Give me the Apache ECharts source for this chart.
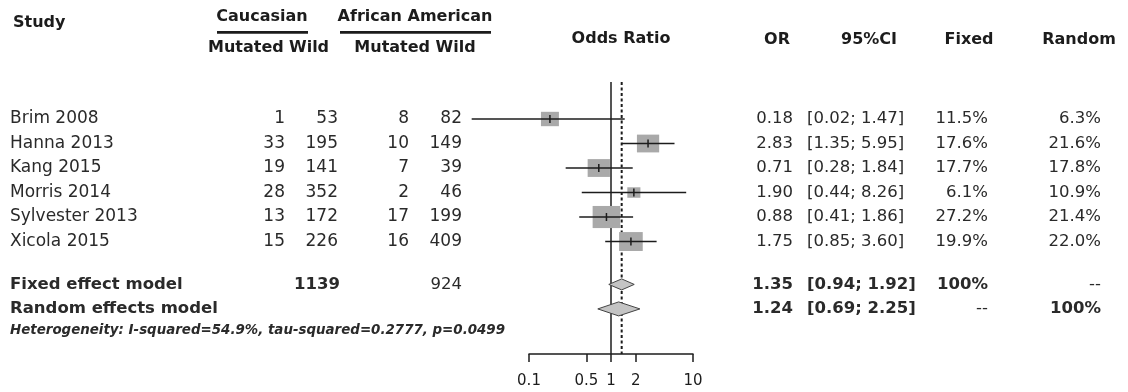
<!DOCTYPE html>
<html>
<head>
<meta charset="utf-8">
<script src="https://cdn.jsdelivr.net/npm/echarts@6/dist/echarts.min.js"></script>
<style>
  html, body { margin: 0; padding: 0; background: #fff; }
  #chart { width: 1128px; height: 392px; }
</style>
</head>
<body>
<div id="chart"></div>
<script>
// study level data
var studies = ['Brim 2008', 'Hanna 2013', 'Kang 2015', 'Morris 2014', 'Sylvester 2013', 'Xicola 2015'];
var cauMutated = [1, 33, 19, 28, 13, 15];
var cauWild = [53, 195, 141, 352, 172, 226];
var afrMutated = [8, 10, 7, 2, 17, 16];
var afrWild = [82, 149, 39, 46, 199, 409];
var oddsRatio = [0.18, 2.83, 0.71, 1.90, 0.88, 1.75];
var ciLower = [0.02, 1.35, 0.28, 0.44, 0.41, 0.85];
var ciUpper = [1.47, 5.95, 1.84, 8.26, 1.86, 3.60];
var weightFixed = [11.5, 17.6, 17.7, 6.1, 27.2, 19.9];
var weightRandom = [6.3, 21.6, 17.8, 10.9, 21.4, 22.0];

// pooled estimates
var modelNames = ['Fixed effect model', 'Random effects model'];
var modelOR = [1.35, 1.24];
var modelLower = [0.94, 0.69];
var modelUpper = [1.92, 2.25];
var modelFixedW = ['100%', '--'];
var modelRandomW = ['--', '100%'];
var totalCau = 1139;
var totalAfr = 924;
var heterogeneity = 'Heterogeneity: I-squared=54.9%, tau-squared=0.2777, p=0.0499';
var axisTicks = [0.1, 0.5, 1, 2, 10];

var FONT = 'DejaVu Sans';
var INK = '#1c1c1c';
var TXT = '#2a2a2a';

var fmt2 = function (v) { return v.toFixed(2); };
var ciText = function (lo, hi) { return '[' + fmt2(lo) + '; ' + fmt2(hi) + ']'; };
var pct = function (v) { return v.toFixed(1) + '%'; };

var studyRows = studies.map(function (s, i) { return i; });
var modelRows = [6.75, 7.75];

// one column of table text, placed on the row axis of the table grid
var textSeries = function (col, align, rows, texts, size, weight, style) {
    return {
        type: 'scatter',
        xAxisIndex: 1,
        yAxisIndex: 1,
        symbolSize: 0,
        silent: true,
        z: 10,
        itemStyle: { opacity: 1 },
        data: rows.map(function (r, i) { return { value: [col, r], name: String(texts[i]) }; }),
        label: {
            show: true,
            position: 'inside',
            align: align,
            verticalAlign: 'middle',
            formatter: '{b}',
            color: TXT,
            opacity: 1,
            fontFamily: FONT,
            fontSize: size,
            fontWeight: weight || 'normal',
            fontStyle: style || 'normal'
        }
    };
};

var headText = function (text, x, y, align, size) {
    return {
        type: 'text',
        x: x,
        y: y,
        style: {
            text: text,
            fill: INK,
            font: 'bold ' + (size || 16) + 'px "' + FONT + '"',
            textAlign: align || 'left',
            textVerticalAlign: 'middle'
        }
    };
};

var chart = echarts.init(document.getElementById('chart'), null, { renderer: 'canvas' });

var series = [];

// null line and fixed effect line
series.push({
    type: 'custom',
    xAxisIndex: 0,
    yAxisIndex: 0,
    silent: true,
    data: [[1, 0], [modelOR[0], 0]],
    renderItem: function (params, api) {
        var x = api.coord([api.value(0), 0])[0];
        var cs = params.coordSys;
        return {
            type: 'line',
            shape: { x1: x, y1: cs.y, x2: x, y2: cs.y + cs.height },
            style: params.dataIndex === 0
                ? { stroke: INK, lineWidth: 1.5 }
                : { stroke: INK, lineWidth: 2, lineDash: [3, 2.5] }
        };
    }
});

// study boxes and whiskers
series.push({
    type: 'custom',
    xAxisIndex: 0,
    yAxisIndex: 0,
    clip: false,
    silent: true,
    data: studies.map(function (s, i) { return [oddsRatio[i], ciLower[i], ciUpper[i], studyRows[i], weightFixed[i]]; }),
    renderItem: function (params, api) {
        var row = api.value(3);
        var p = api.coord([api.value(0), row]);
        var lo = api.coord([api.value(1), row])[0];
        var hi = api.coord([api.value(2), row])[0];
        var w = 5.3 * Math.sqrt(api.value(4));
        var h = w * 0.8;
        return {
            type: 'group',
            children: [
                { type: 'rect', shape: { x: p[0] - w / 2, y: p[1] - h / 2, width: w, height: h }, style: { fill: '#a9a9a9' } },
                { type: 'line', shape: { x1: lo, y1: p[1], x2: hi, y2: p[1] }, style: { stroke: INK, lineWidth: 1.5 } },
                { type: 'line', shape: { x1: p[0], y1: p[1] - 4, x2: p[0], y2: p[1] + 4 }, style: { stroke: INK, lineWidth: 1.5 } }
            ]
        };
    }
});

// pooled diamonds
series.push({
    type: 'custom',
    xAxisIndex: 0,
    yAxisIndex: 0,
    clip: false,
    silent: true,
    data: modelNames.map(function (m, i) { return [modelOR[i], modelLower[i], modelUpper[i], modelRows[i]]; }),
    renderItem: function (params, api) {
        var row = api.value(3);
        var p = api.coord([api.value(0), row]);
        var lo = api.coord([api.value(1), row])[0];
        var hi = api.coord([api.value(2), row])[0];
        var hh = params.dataIndex === 0 ? 5.5 : 7;
        return {
            type: 'polygon',
            shape: { points: [[lo, p[1]], [p[0], p[1] - hh], [hi, p[1]], [p[0], p[1] + hh]] },
            style: { fill: '#c4c4c4', stroke: '#444', lineWidth: 1 }
        };
    }
});

// table columns
series.push(textSeries(10, 'left', studyRows, studies, 17));
series.push(textSeries(285, 'right', studyRows, cauMutated, 17));
series.push(textSeries(338, 'right', studyRows, cauWild, 17));
series.push(textSeries(409, 'right', studyRows, afrMutated, 17));
series.push(textSeries(462, 'right', studyRows, afrWild, 17));
series.push(textSeries(793, 'right', studyRows, oddsRatio.map(fmt2), 16.5));
series.push(textSeries(807, 'left', studyRows, studies.map(function (s, i) { return ciText(ciLower[i], ciUpper[i]); }), 16.5));
series.push(textSeries(988, 'right', studyRows, weightFixed.map(pct), 16.5));
series.push(textSeries(1101, 'right', studyRows, weightRandom.map(pct), 16.5));

series.push(textSeries(10, 'left', modelRows, modelNames, 16.5, 'bold'));
series.push(textSeries(340, 'right', [modelRows[0]], [totalCau], 16.5, 'bold'));
series.push(textSeries(462, 'right', [modelRows[0]], [totalAfr], 16.5));
series.push(textSeries(793, 'right', modelRows, modelOR.map(fmt2), 16.5, 'bold'));
series.push(textSeries(807, 'left', modelRows, modelNames.map(function (m, i) { return ciText(modelLower[i], modelUpper[i]); }), 16.5, 'bold'));
series.push(textSeries(988, 'right', [modelRows[0]], [modelFixedW[0]], 16.5, 'bold'));
series.push(textSeries(988, 'right', [modelRows[1]], [modelFixedW[1]], 16.5));
series.push(textSeries(1101, 'right', [modelRows[0]], [modelRandomW[0]], 16.5));
series.push(textSeries(1101, 'right', [modelRows[1]], [modelRandomW[1]], 16.5, 'bold'));
series.push(textSeries(10, 'left', [8.65], [heterogeneity], 13.4, 'bold', 'italic'));

chart.setOption({
    animation: false,
    backgroundColor: '#fff',
    grid: [
        { left: 529, top: 82, width: 164, height: 272, containLabel: false },
        { left: 0, top: 0, width: 1128, height: 392, containLabel: false }
    ],
    xAxis: [
        {
            type: 'log',
            logBase: 10,
            gridIndex: 0,
            min: 0.1,
            max: 10,
            position: 'bottom',
            axisLine: { show: true, onZero: false, lineStyle: { color: INK, width: 1.5 } },
            axisTick: { show: true, inside: false, length: 8, customValues: axisTicks, lineStyle: { color: INK, width: 1.5 } },
            axisLabel: {
                show: true,
                customValues: axisTicks,
                margin: 20,
                color: INK,
                fontFamily: FONT,
                fontSize: 15,
                formatter: function (v) { return String(v); }
            },
            splitLine: { show: false },
            minorTick: { show: false }
        },
        { type: 'value', gridIndex: 1, min: 0, max: 1128, show: false }
    ],
    yAxis: [
        { type: 'value', gridIndex: 0, min: -1.51, max: 9.59, inverse: true, show: false },
        { type: 'value', gridIndex: 1, min: -4.86, max: 11.14, inverse: true, show: false }
    ],
    graphic: [
        headText('Study', 13, 23, 'left'),
        headText('Caucasian', 262, 17, 'center'),
        { type: 'rect', shape: { x: 217, y: 31, width: 91, height: 2.7 }, style: { fill: INK } },
        headText('African American', 415, 17, 'center'),
        { type: 'rect', shape: { x: 340, y: 31, width: 151, height: 2.7 }, style: { fill: INK } },
        headText('Mutated', 208, 48, 'left'),
        headText('Wild', 289, 48, 'left'),
        headText('Mutated Wild', 415, 48, 'center'),
        headText('Odds Ratio', 621, 39, 'center'),
        headText('OR', 777, 40, 'center'),
        headText('95%CI', 869, 40, 'center'),
        headText('Fixed', 969, 40, 'center'),
        headText('Random', 1079, 40, 'center')
    ],
    series: series
});
</script>
</body>
</html>
